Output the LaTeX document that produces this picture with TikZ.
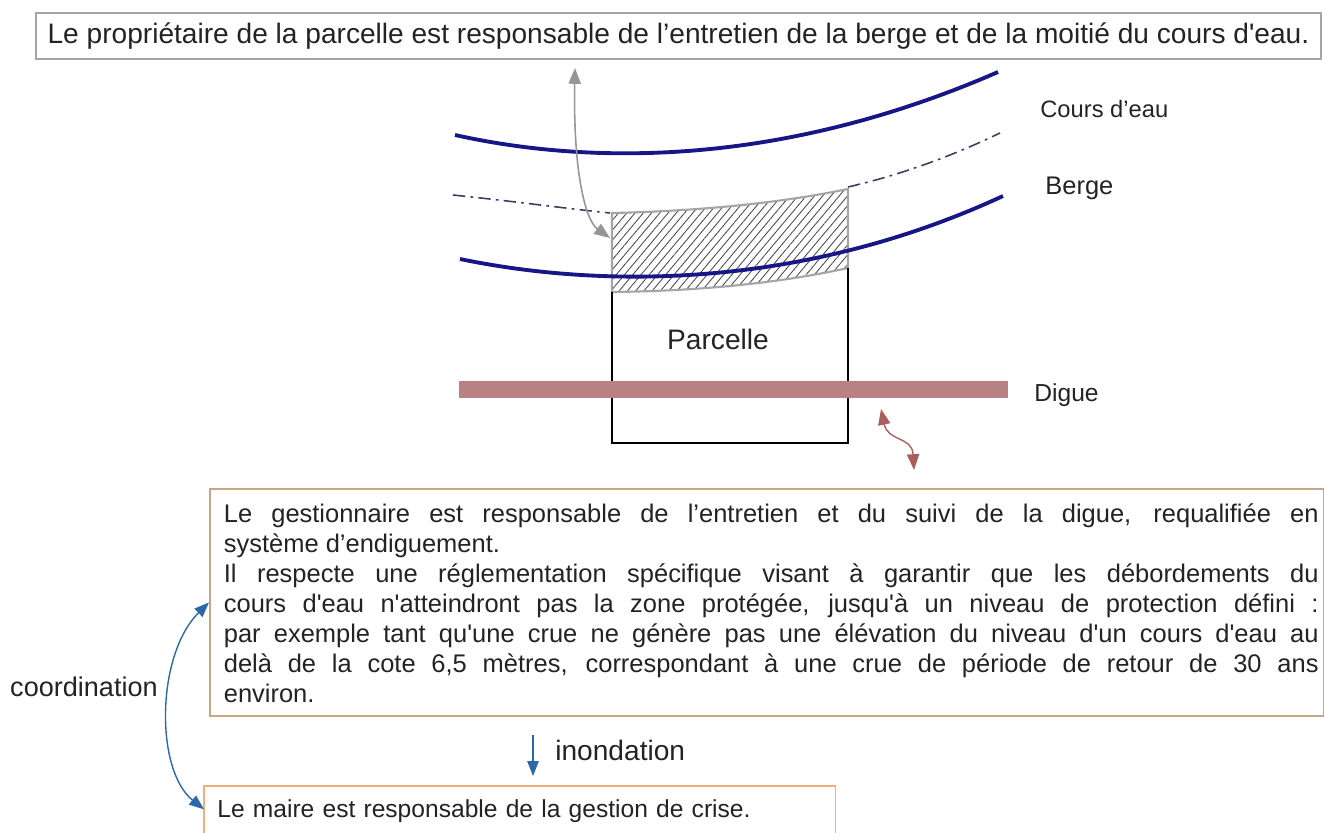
\documentclass[tikz,border=0pt]{standalone}
\usepackage{fontspec}
\setmainfont{Liberation Sans}
\usepackage{tikz}
\usetikzlibrary{arrows.meta}
\usetikzlibrary{patterns.meta}
\definecolor{riviere}{RGB}{22,22,135}
\definecolor{tiret}{RGB}{60,60,100}
\definecolor{grisbord}{RGB}{165,165,165}
\definecolor{grisfleche}{RGB}{150,150,150}
\definecolor{diguecol}{RGB}{185,130,130}
\definecolor{brunfleche}{RGB}{170,95,95}
\definecolor{bleufleche}{RGB}{45,105,170}
\definecolor{bordgest}{RGB}{205,165,130}
\definecolor{bordmaire}{RGB}{240,175,120}
\definecolor{texte}{RGB}{35,35,35}
\newcommand{\sq}{\textquotesingle}
\tikzstyle{cadre} = [draw=grisbord, line width=1pt, text=texte, minimum width=25.7cm, minimum height=0.92cm, inner sep=0pt, font=\fontsize{16pt}{19pt}\selectfont]
\tikzstyle{etiquette} = [anchor=base west, text=texte, inner sep=0pt]
\tikzstyle{eau} = [draw=riviere, line width=2.2pt]
\tikzstyle{limite} = [draw=tiret, line width=0.9pt, dash pattern=on 7pt off 3pt on 1.5pt off 3pt]
\tikzstyle{bande} = [draw=grisbord, line width=1.2pt, pattern={Lines[angle=50, distance=3.6pt, line width=0.5pt]}, pattern color=black!70]
\tikzstyle{diguebar} = [fill=diguecol, minimum width=10.98cm, minimum height=0.34cm, inner sep=0pt]
\tikzstyle{gestbox} = [draw=bordgest, line width=1pt, text=texte, text width=22.08cm, inner xsep=0.1cm, inner ysep=0pt, align=justify, font=\fontsize{14.5pt}{0.6cm}\selectfont]
\tikzstyle{mairebox} = [text=texte, text width=12.1cm, inner xsep=0.26cm, inner ysep=0pt, align=left]
\tikzstyle{grisfl} = [draw=grisfleche, line width=0.9pt, >={Triangle[length=9pt,width=7pt]}]
\tikzstyle{brunfl} = [draw=brunfleche, line width=0.8pt, >={Triangle[length=9pt,width=7pt]}]
\tikzstyle{bleufl} = [draw=bleufleche, line width=0.8pt, >={Triangle[length=8.5pt,width=6.5pt]}]

\begin{document}
\begin{tikzpicture}[x=0.02cm, y=-0.02cm, font=\fontsize{14pt}{17pt}\selectfont]
	\useasboundingbox (0,0) rectangle (1324,832);
	\node [cadre] (proprio) at (678.5,36) {Le propriétaire de la parcelle est responsable de l’entretien de la berge et de la moitié du cours d\sq eau.};

	\draw [eau] (455,135) .. controls (590,165) and (780,167) .. (998,72);
	\draw [limite] (453,195) .. controls (520,202) and (570,209) .. (610,213);
	\draw [limite] (848,187) .. controls (900,175) and (950,157) .. (1000,133);
	\draw [bande] (612,213) .. controls (700,211) and (780,203) .. (848,189) -- (848,268) .. controls (780,283) and (700,291) .. (612,292) -- cycle;
	\draw [line width=0.8pt] (612,292) -- (612,443) -- (848,443) -- (848,268);
	\draw [eau] (460,259) .. controls (600,288) and (800,290) .. (1003,196);
	\node [diguebar] (digue) at (733.5,389.5) {};

	\node [etiquette, font=\fontsize{13.5pt}{16pt}\selectfont] (cours) at (1040,117) {Cours d’eau};
	\node [etiquette, font=\fontsize{14.5pt}{17pt}\selectfont] (berge) at (1045,194) {Berge};
	\node [etiquette] (diguetxt) at (1034,401) {Digue};
	\node [text=texte, font=\fontsize{16pt}{19pt}\selectfont] (parcelle) at (718,339) {Parcelle};

	\coordinate (prop1) at (575,68);
	\coordinate (berg1) at (610,238);
	\draw [grisfl, <->] (prop1) .. controls (573,170) and (585,220) .. (berg1);
	\coordinate (dig1) at (881,409);
	\coordinate (dig2) at (914,470);
	\draw [brunfl, <->] (dig1) .. controls (888,442) and (912,436) .. (dig2);

	\node [gestbox, anchor=north west] (gestion) at (209,488) {\leftskip=0.18cm\rule{0pt}{0.68cm}Le gestionnaire est responsable de l’entretien et du suivi de la digue, requalifiée en\linebreak
		système d’endiguement.\newline
		Il respecte une réglementation spécifique visant à garantir que les débordements du\linebreak
		cours d\sq eau n\sq atteindront pas la zone protégée, jusqu\sq à un niveau de protection défini :\linebreak
		par exemple tant qu\sq une crue ne génère pas une élévation du niveau d\sq un cours d\sq eau au\linebreak
		delà de la cote 6,5 mètres, correspondant à une crue de période de retour de 30 ans\linebreak
		environ.\rule[-0.26cm]{0pt}{0pt}\par};
	\node [mairebox, anchor=north west] (maire) at (204,786) {\rule[-0.29cm]{0pt}{0.92cm}Le maire est responsable de la gestion de crise.};
	\draw [draw=bordmaire, line width=1pt] (maire.south west) |- (maire.north east) -- (maire.south east);

	\coordinate (inond1) at (533,735);
	\draw [bleufl, ->] (inond1) -- (inond1 |- maire.north) [shorten >=0.2cm];
	\node [etiquette, font=\fontsize{16pt}{19pt}\selectfont] (inondation) at (555,760) {inondation};
	\draw [bleufl, <->] (gestion.west) .. controls (156,655) and (155,770) .. (maire.west);
	\node [anchor=base east, text=texte, inner sep=0pt, font=\fontsize{15.4pt}{18pt}\selectfont] (coordination) at (158,696) {coordination};
\end{tikzpicture}
\end{document}
